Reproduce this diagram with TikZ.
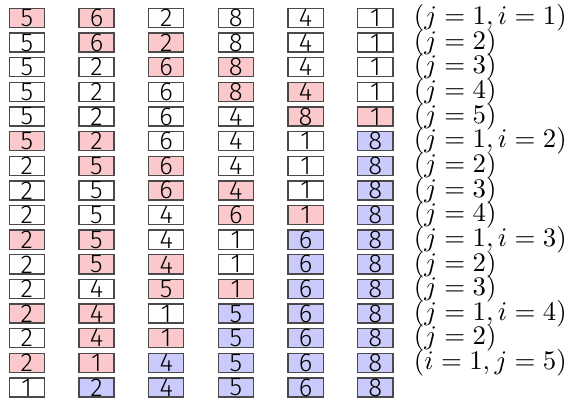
\documentclass[tikz,border=0pt]{standalone}
\usepackage{amsmath}
\usepackage{fontspec}
\usepackage{xcolor}
\usepackage{tikz}
\usetikzlibrary{positioning}
\IfFontExistsTF{Fira Sans Light}
  {\newfontfamily\cellfont{Fira Sans Light}}
  {\newfontfamily\cellfont{Fira Sans}}
\definecolor{bsSwap}{HTML}{FBC8CB}
\definecolor{bsDone}{HTML}{CACAFC}
\definecolor{bsEdge}{HTML}{4A4A4A}

\begin{document}
\begin{tikzpicture}[
  x=1pt,y=1pt,
  cell/.style={draw=bsEdge,fill=white,line width=0.5pt,minimum width=13.1pt,
               minimum height=7.1pt,inner sep=0pt,
               font=\cellfont\fontsize{9.6}{9.6}\selectfont},
  pl/.style={},
  sw/.style={fill=bsSwap},
  dn/.style={fill=bsDone},
  tag/.style={anchor=west,inner sep=0pt,font=\normalsize}]

\useasboundingbox (0,0) rectangle (213,-148.9);

% one row per step of the sort: value/state
\foreach \row [count=\r] in {
  {5/sw,6/sw,2/pl,8/pl,4/pl,1/pl},
  {5/pl,6/sw,2/sw,8/pl,4/pl,1/pl},
  {5/pl,2/pl,6/sw,8/sw,4/pl,1/pl},
  {5/pl,2/pl,6/pl,8/sw,4/sw,1/pl},
  {5/pl,2/pl,6/pl,4/pl,8/sw,1/sw},
  {5/sw,2/sw,6/pl,4/pl,1/pl,8/dn},
  {2/pl,5/sw,6/sw,4/pl,1/pl,8/dn},
  {2/pl,5/pl,6/sw,4/sw,1/pl,8/dn},
  {2/pl,5/pl,4/pl,6/sw,1/sw,8/dn},
  {2/sw,5/sw,4/pl,1/pl,6/dn,8/dn},
  {2/pl,5/sw,4/sw,1/pl,6/dn,8/dn},
  {2/pl,4/pl,5/sw,1/sw,6/dn,8/dn},
  {2/sw,4/sw,1/pl,5/dn,6/dn,8/dn},
  {2/pl,4/sw,1/sw,5/dn,6/dn,8/dn},
  {2/sw,1/sw,4/dn,5/dn,6/dn,8/dn},
  {1/pl,2/dn,4/dn,5/dn,6/dn,8/dn}}
  \foreach \v/\s [count=\k] in \row
    \node[cell,\s] (c\r-\k) at ({26*\k-16},{-6.7-9.19*(\r-1)}) {\v};

% step labels
\foreach \r/\txt in {1/{$(j=1,i=1)$},2/{$(j=2)$},3/{$(j=3)$},4/{$(j=4)$},
  5/{$(j=5)$},6/{$(j=1,i=2)$},7/{$(j=2)$},8/{$(j=3)$},9/{$(j=4)$},
  10/{$(j=1,i=3)$},11/{$(j=2)$},12/{$(j=3)$},13/{$(j=1,i=4)$},
  14/{$(j=2)$},15/{$(i=1,j=5)$}}
  \node[tag,right=7.4pt of c\r-6] (t\r) {\txt};
\end{tikzpicture}
\end{document}
